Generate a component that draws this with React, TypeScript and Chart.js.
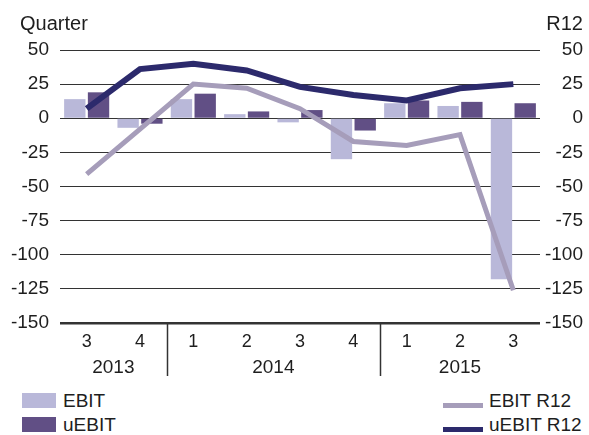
import React, { useEffect, useRef } from "react";
import { Chart, registerables } from "chart.js";
Chart.register(...registerables);

const quarters = ["3", "4", "1", "2", "3", "4", "1", "2", "3"];
const years = ["2013", "2014", "2015"];
const yearSpans = [2, 4, 3];
const ebit = [14, -7, 14, 3, -3, -30, 11, 9, -118];
const uebit = [19, -4, 18, 5, 6, -9, 13, 12, 11];
const ebitR12 = [-41, -8, 25, 22, 7, -17, -20, -12, -126];
const uebitR12 = [7, 36, 40, 35, 23, 17, 13, 22, 25];
const yMin = -150;
const yMax = 50;
const yStep = 25;

const FONT = "'Liberation Sans', Arial, Helvetica, sans-serif";
const TEXT = "#1e1e1e";
const C_EBIT = "#b9b8d9";
const C_UEBIT = "#614f85";
const C_EBIT_R12 = "#a69dba";
const C_UEBIT_R12 = "#2c2a6c";

const yearPlugin = {
  id: "yearGroups",
  afterDraw(chart: any) {
    const x = chart.scales.x;
    const ctx = chart.ctx;
    const top = chart.chartArea.bottom;
    const half = (x.getPixelForValue(1) - x.getPixelForValue(0)) / 2;
    ctx.save();
    ctx.font = `19px ${FONT}`;
    ctx.fillStyle = TEXT;
    ctx.textAlign = "center";
    ctx.textBaseline = "middle";
    ctx.strokeStyle = "#333";
    ctx.lineWidth = 1.5;
    let start = 0;
    years.forEach((yr, i) => {
      const end = start + yearSpans[i];
      const left = x.getPixelForValue(start) - half;
      const right = x.getPixelForValue(end - 1) + half;
      ctx.fillText(yr, (left + right) / 2, top + 45);
      if (i < years.length - 1) {
        ctx.beginPath();
        ctx.moveTo(Math.round(right) + 0.5, top);
        ctx.lineTo(Math.round(right) + 0.5, top + 53);
        ctx.stroke();
      }
      start = end;
    });
    ctx.restore();
  },
};

export default function App() {
  const ref = useRef<HTMLCanvasElement>(null);
  useEffect(() => {
    if (!ref.current) return;
    const chart = new Chart(ref.current, {
      type: "bar",
      data: {
        labels: quarters,
        datasets: [
          { type: "line", label: "EBIT R12", data: ebitR12, yAxisID: "y2", borderColor: C_EBIT_R12, borderWidth: 5, pointRadius: 0, tension: 0, order: 1 },
          { type: "line", label: "uEBIT R12", data: uebitR12, yAxisID: "y2", borderColor: C_UEBIT_R12, borderWidth: 6, pointRadius: 0, tension: 0, order: 0 },
          { type: "bar", label: "EBIT", data: ebit, yAxisID: "y", backgroundColor: C_EBIT, order: 3, categoryPercentage: 0.89, barPercentage: 0.9 },
          { type: "bar", label: "uEBIT", data: uebit, yAxisID: "y", backgroundColor: C_UEBIT, order: 3, categoryPercentage: 0.89, barPercentage: 0.9 },
        ] as any,
      },
      options: {
        animation: false,
        responsive: false,
        devicePixelRatio: 1,
        layout: { padding: { top: 50, left: 0, right: 6, bottom: 0 } },
        plugins: { legend: { display: false }, tooltip: { enabled: false } },
        scales: {
          x: {
            grid: { display: false, drawTicks: false },
            border: { display: false },
            ticks: { color: TEXT, font: { family: FONT, size: 18 }, padding: 8, maxRotation: 0, autoSkip: false },
            afterFit: (s: any) => { s.height = 62; },
          },
          y: {
            position: "left",
            min: yMin,
            max: yMax,
            ticks: { stepSize: yStep, color: TEXT, font: { family: FONT, size: 19 }, padding: 11 },
            grid: {
              color: "#333",
              drawTicks: false,
              lineWidth: (c: any) => (c.tick && c.tick.value === yMin ? 2.5 : 1),
            },
            border: { display: false },
            afterFit: (s: any) => { s.width = 60; },
          },
          y2: {
            position: "right",
            min: yMin,
            max: yMax,
            ticks: { stepSize: yStep, color: TEXT, font: { family: FONT, size: 19 }, padding: 4, crossAlign: "far" },
            grid: { display: false, drawTicks: false },
            border: { display: false },
            afterFit: (s: any) => { s.width = 43; },
          },
        },
      } as any,
      plugins: [yearPlugin],
    });
    return () => chart.destroy();
  }, []);

  const txt: React.CSSProperties = { position: "absolute", fontFamily: FONT, fontSize: 19, color: TEXT, lineHeight: "20px", whiteSpace: "nowrap" };
  return (
    <div style={{ position: "absolute", left: 0, top: 0, width: 589, height: 435, background: "#fff", overflow: "hidden" }}>
      <canvas ref={ref} width={589} height={385} style={{ position: "absolute", left: 0, top: 0, width: 589, height: 385 }} />
      <div style={{ ...txt, left: 20, top: 13, fontSize: 20 }}>Quarter</div>
      <div style={{ ...txt, right: 6, top: 13, fontSize: 20 }}>R12</div>
      <div style={{ position: "absolute", left: 22, top: 393, width: 34, height: 15, background: C_EBIT }} />
      <div style={{ ...txt, left: 63, top: 391 }}>EBIT</div>
      <div style={{ position: "absolute", left: 22, top: 417, width: 34, height: 15, background: C_UEBIT }} />
      <div style={{ ...txt, left: 63, top: 415 }}>uEBIT</div>
      <div style={{ position: "absolute", left: 443, top: 403, width: 40, height: 5, background: C_EBIT_R12 }} />
      <div style={{ ...txt, left: 489, top: 391 }}>EBIT R12</div>
      <div style={{ position: "absolute", left: 443, top: 427, width: 40, height: 5, background: C_UEBIT_R12 }} />
      <div style={{ ...txt, left: 489, top: 415 }}>uEBIT R12</div>
    </div>
  );
}
